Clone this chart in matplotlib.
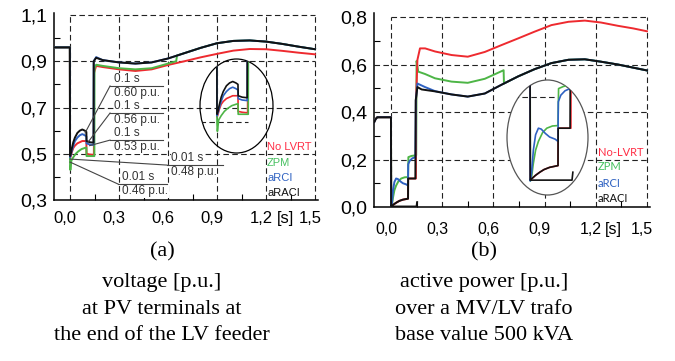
import matplotlib
matplotlib.use('Agg')
import matplotlib.pyplot as plt
from matplotlib.patches import Ellipse
import matplotlib.transforms as mtransforms

# ---------------- DATA ----------------
# (a) voltage [p.u.] at PV terminals, time in s
t_v_noLVRT = [-0.1, -0.001, 0.0, 0.005, 0.01, 0.02, 0.03, 0.045, 0.06, 0.075, 0.09, 0.1, 0.101, 0.12, 0.146,
              0.147, 0.16, 0.2, 0.3, 0.4, 0.5, 0.6, 0.7, 0.8, 0.9, 1.0, 1.1, 1.2, 1.3, 1.4, 1.5]
v_noLVRT = [0.96, 0.96, 0.48, 0.49, 0.505, 0.525, 0.535, 0.545, 0.55, 0.555, 0.555, 0.555, 0.50, 0.497, 0.495,
            0.85, 0.88, 0.875, 0.865, 0.858, 0.865, 0.884, 0.90, 0.917, 0.932, 0.946, 0.953, 0.952, 0.945, 0.937, 0.93]

t_v_ZPM = [-0.1, -0.001, 0.0, 0.002, 0.008, 0.02, 0.035, 0.05, 0.07, 0.09, 0.1, 0.101, 0.149,
           0.15, 0.16, 0.2, 0.3, 0.4, 0.5, 0.6, 0.65, 0.655, 0.7, 0.8, 0.9, 1.0, 1.1, 1.2, 1.3, 1.4, 1.5]
v_ZPM = [0.96, 0.96, 0.46, 0.43, 0.47, 0.485, 0.50, 0.51, 0.52, 0.525, 0.527, 0.49, 0.49,
         0.87, 0.885, 0.88, 0.87, 0.865, 0.87, 0.89, 0.90, 0.925, 0.935, 0.958, 0.978, 0.988, 0.99, 0.985, 0.975, 0.963, 0.952]

t_v_aRCI = [-0.1, -0.001, 0.0, 0.005, 0.01, 0.02, 0.03, 0.045, 0.06, 0.075, 0.09, 0.1, 0.101, 0.12, 0.144,
            0.145, 0.16, 0.2, 0.3, 0.4, 0.5, 0.6, 0.7, 0.8, 0.9, 1.0, 1.1, 1.2, 1.3, 1.4, 1.5]
v_aRCI = [0.96, 0.96, 0.485, 0.495, 0.51, 0.535, 0.555, 0.57, 0.58, 0.585, 0.58, 0.575, 0.545, 0.54, 0.538,
          0.90, 0.918, 0.905, 0.895, 0.89, 0.895, 0.912, 0.935, 0.958, 0.978, 0.988, 0.99, 0.985, 0.975, 0.963, 0.952]

t_v_aRACI = [-0.1, -0.001, 0.0, 0.005, 0.01, 0.02, 0.03, 0.045, 0.06, 0.075, 0.09, 0.1, 0.101, 0.12, 0.144,
             0.145, 0.16, 0.2, 0.3, 0.4, 0.5, 0.6, 0.7, 0.8, 0.9, 1.0, 1.1, 1.2, 1.3, 1.4, 1.5]
v_aRACI = [0.96, 0.96, 0.49, 0.50, 0.52, 0.55, 0.57, 0.59, 0.60, 0.605, 0.60, 0.595, 0.555, 0.55, 0.548,
           0.90, 0.915, 0.905, 0.895, 0.89, 0.895, 0.912, 0.935, 0.958, 0.978, 0.988, 0.99, 0.985, 0.975, 0.963, 0.952]

# (b) active power [p.u.] over MV/LV trafo
t_p_noLVRT = [-0.1, -0.09, -0.08, 0.0, 0.001, 0.006, 0.02, 0.035, 0.05, 0.07, 0.1, 0.1005, 0.146,
              0.147, 0.155, 0.17, 0.2, 0.258, 0.355, 0.45, 0.55, 0.648, 0.745, 0.84, 0.94, 1.04, 1.136, 1.23, 1.33, 1.42, 1.5]
p_noLVRT = [0.355, 0.37, 0.378, 0.378, 0.002, 0.005, 0.013, 0.02, 0.026, 0.031, 0.035, 0.12, 0.12,
            0.45, 0.62, 0.668, 0.668, 0.655, 0.64, 0.633, 0.653, 0.682, 0.71, 0.738, 0.766, 0.78, 0.785, 0.777, 0.763, 0.752, 0.74]

t_p_ZPM = [-0.1, -0.09, -0.08, 0.0, 0.0015, 0.006, 0.012, 0.02, 0.03, 0.045, 0.06, 0.08, 0.1, 0.102, 0.12, 0.148,
           0.15, 0.16, 0.2, 0.258, 0.355, 0.45, 0.55, 0.648, 0.66, 0.662, 0.745, 0.84, 0.94, 1.04, 1.136, 1.23, 1.33, 1.5]
p_ZPM = [0.355, 0.37, 0.378, 0.378, 0.0, 0.01, 0.04, 0.07, 0.09, 0.11, 0.12, 0.125, 0.126, 0.21, 0.215, 0.218,
         0.615, 0.57, 0.56, 0.542, 0.528, 0.523, 0.54, 0.572, 0.576, 0.52, 0.55, 0.58, 0.606, 0.62, 0.622, 0.612, 0.60, 0.575]

t_p_aRCI = [-0.1, -0.09, -0.08, 0.0, 0.001, 0.006, 0.012, 0.02, 0.03, 0.04, 0.055, 0.07, 0.09, 0.1, 0.101, 0.11, 0.125, 0.143,
            0.146, 0.155, 0.17, 0.2, 0.258, 0.355, 0.45, 0.55, 0.648, 0.745, 0.84, 0.94, 1.04, 1.136, 1.23, 1.33, 1.5]
p_aRCI = [0.355, 0.37, 0.378, 0.378, 0.0, 0.02, 0.07, 0.105, 0.12, 0.118, 0.108, 0.10, 0.095, 0.09, 0.18, 0.195, 0.205, 0.21,
          0.45, 0.52, 0.515, 0.505, 0.488, 0.474, 0.465, 0.478, 0.515, 0.55, 0.58, 0.606, 0.62, 0.622, 0.612, 0.60, 0.575]

t_p_aRACI = [-0.1, -0.09, -0.08, 0.0, 0.001, 0.006, 0.02, 0.035, 0.05, 0.07, 0.1, 0.1005, 0.143,
             0.145, 0.155, 0.18, 0.258, 0.355, 0.45, 0.55, 0.648, 0.745, 0.84, 0.94, 1.04, 1.136, 1.23, 1.33, 1.5]
p_aRACI = [0.355, 0.37, 0.378, 0.378, 0.002, 0.005, 0.013, 0.02, 0.026, 0.031, 0.035, 0.12, 0.12,
           0.45, 0.505, 0.495, 0.487, 0.474, 0.465, 0.478, 0.515, 0.55, 0.58, 0.606, 0.62, 0.622, 0.612, 0.60, 0.575]

# second aRACI unit staying near zero during the fault
t_p_aRACI_2 = [0.004, 0.15, 0.153]
p_aRACI_2 = [0.002, 0.002, 0.02]

# annotations on (a)
ann_time = ['0.1 s', '0.1 s', '0.1 s', '0.01 s', '0.01 s']
ann_value = ['0.60 p.u.', '0.56 p.u.', '0.53 p.u.', '0.48 p.u.', '0.46 p.u.']

legend_a = ['No LVRT', 'ZPM', 'aRCI', 'aRACI']
legend_b = ['No-LVRT', 'ZPM', 'aRCI', 'aRACI']
xticks = [0.0, 0.3, 0.6, 0.9, 1.2, 1.5]
xticklabels = ['0,0', '0,3', '0,6', '0,9', '1,2', '1,5']
yticks_a = [0.3, 0.5, 0.7, 0.9, 1.1]
yticklabels_a = ['0,3', '0,5', '0,7', '0,9', '1,1']
yticks_b = [0.0, 0.2, 0.4, 0.6, 0.8]
yticklabels_b = ['0,0', '0,2', '0,4', '0,6', '0,8']

# ---------------- STYLE ----------------
RED, GREEN, BLUE, BLACK = '#ee2a2f', '#4db546', '#2f62c2', '#111111'
LEG_COLS = ['#ff2d45', '#46c060', '#2f62c2', '#111111']
GRIDKW = dict(color='#222222', lw=0.8, linestyles=(0, (5, 3)))
SANS = 'Liberation Sans'
SERIF = 'Liberation Serif'

W, H = 675, 361
fig = plt.figure(figsize=(6.75, 3.61), dpi=100)


def px_axes(x0, x1, y0, y1):
    return fig.add_axes([x0 / W, 1 - y1 / H, (x1 - x0) / W, (y1 - y0) / H])


def style_axes(ax, ylo, yhi, ytop, yticks, yticklabels, ygrid, yminor, xpad, xlabfs, sx):
    ax.set_xlim(-0.1, 1.52)
    ax.set_ylim(ylo, yhi)
    for s in ['top', 'right']:
        ax.spines[s].set_visible(False)
    for s in ['left', 'bottom']:
        ax.spines[s].set_linewidth(1.1)
    ax.vlines(xticks, ylo, ytop, **GRIDKW, zorder=1)
    ax.hlines(ygrid, -0.1, 1.5, **GRIDKW, zorder=1)
    ax.hlines(ytop, 0.0, 1.5, **GRIDKW, zorder=1)
    ax.set_xticks(xticks)
    ax.set_xticklabels(xticklabels, family=SANS, fontsize=xlabfs)
    ax.set_yticks(yticks)
    ax.set_yticklabels(yticklabels, family=SANS, fontsize=14)
    ax.set_xticks([0.15, 0.45, 0.75, 1.05, 1.35], minor=True)
    ax.set_yticks(yminor, minor=True)
    ax.tick_params(which='major', length=0)
    ax.tick_params(axis='y', which='major', pad=4.5)
    ax.tick_params(axis='x', which='major', pad=xpad)
    ax.tick_params(which='minor', direction='in', length=4, width=0.8)
    off = mtransforms.ScaledTranslation(-0.05, 0, fig.dpi_scale_trans)
    for lab in ax.get_xticklabels():
        lab.set_transform(lab.get_transform() + off)
    tr = mtransforms.blended_transform_factory(ax.transData, ax.transAxes)
    ax.text(sx, 0, '[s]', transform=tr + mtransforms.ScaledTranslation(-0.05, -(xpad + 0) / 72, fig.dpi_scale_trans),
            ha='center', va='top', family=SANS, fontsize=xlabfs)


# ---------- (a) ----------
axA = px_axes(53.7, 318.3, 12.7, 200)
style_axes(axA, 0.3, 1.11, 1.1, yticks_a, yticklabels_a, [0.5, 0.7, 0.9], [0.4, 0.6, 0.8, 1.0], 8, 12, 1.35)

series_a = [(t_v_noLVRT, v_noLVRT, RED), (t_v_ZPM, v_ZPM, GREEN),
            (t_v_aRCI, v_aRCI, BLUE), (t_v_aRACI, v_aRACI, BLACK)]
for t, v, c in series_a:
    axA.plot(t, v, color=c, lw=1.4, zorder=3)

# annotations (separator x-range, separator level, tip)
ann_geom = [((0.245, 0.57), 0.793, (0.092, 0.59)),
            ((0.245, 0.57), 0.676, (0.11, 0.55)),
            ((0.245, 0.57), 0.559, (0.12, 0.535)),
            ((0.594, 0.937), 0.451, (0.0, 0.477)),
            ((0.294, 0.594), 0.369, (0.0, 0.464))]
for (xr, ys, tip), l1, l2 in zip(ann_geom, ann_time, ann_value):
    axA.text(xr[0] + 0.025, ys + 0.004, l1, ha='left', va='bottom', family=SANS, fontsize=8.5, color='#333333',
             bbox=dict(fc='white', ec='none', pad=0.3), zorder=4)
    axA.text(xr[0] + 0.025, ys - 0.006, l2, ha='left', va='top', family=SANS, fontsize=8.5, color='#333333',
             bbox=dict(fc='white', ec='none', pad=0.3), zorder=4)
    axA.plot([xr[0], xr[1]], [ys, ys], color='#444444', lw=0.8, zorder=5)
    axA.plot([tip[0], xr[0]], [tip[1], ys], color='#444444', lw=0.8, zorder=5)

leg_y_a = [147, 163, 178, 193]
for lab, c, yp in zip(legend_a, LEG_COLS, leg_y_a):
    fig.text(267 / W, 1 - yp / H, lab, ha='left', va='center', family=SANS, fontsize=8, color=c)

# inset (a)
axIA = px_axes(200, 273, 59, 153)
axIA.set_xlim(-0.081, 0.267)
axIA.set_ylim(0.354, 0.684)
axIA.axis('off')
ellA = Ellipse((0.5, 0.5), 1, 1, transform=axIA.transAxes, fill=False, ec='black', lw=0.9)
ellA.set_clip_on(False)
axIA.add_patch(ellA)
hl = axIA.hlines(0.463, -0.081, 0.15, color='#222222', lw=0.8, linestyles=(0, (5, 3)))
hl.set_clip_path(ellA)
for t, v, c in series_a:
    ln, = axIA.plot(t, v, color=c, lw=1.2)
    ln.set_clip_path(ellA)

# ---------- (b) ----------
axB = px_axes(373.9, 650.4, 13, 207)
style_axes(axB, 0.0, 0.817, 0.8, yticks_b, yticklabels_b, [0.2, 0.4, 0.6], [0.1, 0.3, 0.5, 0.7], 11, 11.5, 1.335)

series_b = [(t_p_ZPM, p_ZPM, GREEN), (t_p_noLVRT, p_noLVRT, RED),
            (t_p_aRCI, p_aRCI, BLUE), (t_p_aRACI, p_aRACI, BLACK), (t_p_aRACI_2, p_aRACI_2, BLACK)]
for t, p, c in series_b:
    axB.plot(t, p, color=c, lw=1.4, zorder=3)

leg_y_b = [152, 167, 183, 198]
for lab, c, yp in zip(legend_b, LEG_COLS, leg_y_b):
    fig.text(598 / W, 1 - yp / H, lab, ha='left', va='center', family='Lato', fontsize=8, color=c)

axIB = px_axes(507, 588, 80, 195)
axIB.set_xlim(-0.082, 0.207)
axIB.set_ylim(-0.0318, 0.2295)
axIB.axis('off')
ellB_bg = Ellipse((0.5, 0.5), 1, 1, transform=axIB.transAxes, fc='white', ec='#555555', lw=0.9, zorder=0)
ellB_bg.set_clip_on(False)
axIB.add_patch(ellB_bg)
hl = axIB.hlines(0.19, -0.06, 0.1, color='#222222', lw=0.8, linestyles=(0, (5, 3)), zorder=1)
hl.set_clip_path(ellB_bg)
for t, p, c in series_b:
    ln, = axIB.plot(t, p, color=c, lw=1.2, zorder=2)
    ln.set_clip_path(ellB_bg)

# ---------- captions ----------
cap_a = ['(a)', 'voltage [p.u.]', 'at PV terminals at', 'the end of the LV feeder']
cap_b = ['(b)', 'active power [p.u.]', 'over a MV/LV trafo', 'base value 500 kVA']
cap_y = [252, 283, 309, 335]
for la, lb, yp in zip(cap_a, cap_b, cap_y):
    fig.text(162 / W, 1 - yp / H, la, ha='center', va='center', family=SERIF, fontsize=16)
    fig.text(484 / W, 1 - yp / H, lb, ha='center', va='center', family=SERIF, fontsize=16)

fig.savefig('out.png', dpi=100)
